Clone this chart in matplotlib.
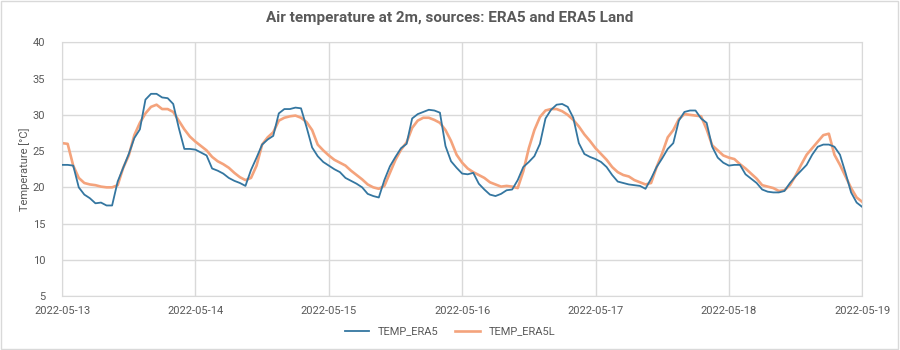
import numpy as np
import pandas as pd
import matplotlib
matplotlib.use("Agg")
from matplotlib import pyplot as plt
import matplotlib.dates as mdates

# hourly values, 2022-05-13 00:00 .. 2022-05-19 00:00
temp_era5 = [
    23.1, 23.1, 23.0, 20.0, 19.0, 18.5, 17.8, 17.9, 17.5, 17.5,
    20.8, 22.7, 24.6, 26.8, 28.0, 32.1, 32.9, 32.9, 32.4, 32.3,
    31.5, 28.2, 25.3, 25.3, 25.2, 24.8, 24.4, 22.6, 22.3, 21.9,
    21.3, 20.9, 20.6, 20.2, 22.4, 24.1, 25.9, 26.6, 27.1, 30.2,
    30.8, 30.8, 31.0, 30.9, 28.3, 25.5, 24.3, 23.5, 23.0, 22.5,
    22.1, 21.3, 20.9, 20.5, 20.0, 19.1, 18.8, 18.6, 21.0, 22.9,
    24.2, 25.4, 26.0, 29.5, 30.1, 30.4, 30.7, 30.6, 30.3, 25.7,
    23.6, 22.7, 21.9, 21.8, 22.0, 20.5, 19.7, 19.0, 18.8, 19.1,
    19.6, 19.7, 21.0, 22.8, 23.5, 24.3, 26.0, 29.5, 30.7, 31.4,
    31.5, 31.1, 29.6, 26.1, 24.6, 24.2, 23.9, 23.5, 22.8, 21.7,
    20.8, 20.6, 20.4, 20.3, 20.2, 19.8, 21.2, 22.8, 24.0, 25.3,
    26.1, 29.2, 30.4, 30.6, 30.6, 29.5, 28.9, 25.6, 24.1, 23.4,
    23.0, 23.1, 23.1, 21.8, 21.2, 20.6, 19.7, 19.4, 19.3, 19.3,
    19.5, 20.6, 21.5, 22.3, 23.1, 24.5, 25.6, 25.9, 25.9, 25.6,
    24.5, 22.0, 19.3, 17.9, 17.3,
]
temp_era5l = [
    26.1, 26.0, 23.0, 21.3, 20.6, 20.4, 20.3, 20.1, 20.0, 20.0,
    20.3, 22.7, 24.4, 27.2, 28.9, 30.2, 31.1, 31.4, 30.8, 30.8,
    30.4, 29.2, 28.0, 27.0, 26.3, 25.7, 25.1, 24.2, 23.6, 23.2,
    22.7, 22.0, 21.4, 21.0, 21.3, 23.0, 25.9, 26.9, 27.6, 29.2,
    29.6, 29.8, 29.9, 29.6, 29.0, 27.9, 25.9, 25.1, 24.4, 23.8,
    23.4, 23.0, 22.3, 21.7, 21.1, 20.4, 20.0, 19.8, 20.2, 22.0,
    23.8, 25.2, 26.2, 28.2, 29.2, 29.6, 29.6, 29.3, 28.9, 27.9,
    26.4, 24.5, 23.4, 22.6, 22.1, 21.7, 21.3, 20.7, 20.4, 20.1,
    20.2, 20.1, 19.9, 22.2, 25.4, 27.9, 29.7, 30.6, 30.8, 30.8,
    30.5, 30.0, 29.3, 28.4, 27.3, 26.4, 25.4, 24.6, 23.8, 22.8,
    22.1, 21.7, 21.5, 21.0, 20.7, 20.4, 20.6, 22.8, 24.7, 26.9,
    27.9, 29.4, 30.1, 30.0, 29.9, 29.8, 28.0, 25.8, 25.1, 24.4,
    24.1, 23.9, 23.2, 22.6, 21.9, 21.2, 20.3, 20.1, 19.9, 19.5,
    19.6, 20.3, 21.6, 23.1, 24.5, 25.4, 26.3, 27.2, 27.4, 24.5,
    23.1, 21.5, 19.9, 18.6, 18.0,
]
times = pd.date_range("2022-05-13 00:00", periods=len(temp_era5), freq="h")

plt.rcParams["font.family"] = ["Roboto", "DejaVu Sans"]

txt = "#595959"
grid = "#D9D9D9"

fig = plt.figure(figsize=(9, 3.5), dpi=100)
ax = fig.add_axes([0.069, 0.154, 0.889, 0.725])

ax.plot(times, temp_era5, color="#3476A0", lw=1.3, label="TEMP_ERA5",
        zorder=3, solid_joinstyle="round")
ax.plot(times, temp_era5l, color="#F4A37C", lw=1.9, label="TEMP_ERA5L",
        zorder=2, solid_joinstyle="round")

ax.set_ylim(5, 40)
ax.set_yticks(np.arange(5, 41, 5))
ax.set_xlim(pd.Timestamp("2022-05-13"), pd.Timestamp("2022-05-19"))
ax.xaxis.set_major_locator(mdates.DayLocator())
ax.xaxis.set_major_formatter(mdates.DateFormatter("%Y-%m-%d"))

ax.grid(True, color=grid, lw=1)
ax.set_axisbelow(True)
for s in ax.spines.values():
    s.set_color(grid)
ax.tick_params(length=0, labelsize=8, colors=txt, pad=7)
ax.tick_params(axis="y", pad=12)

ax.set_ylabel("Temperature [°C]", fontsize=8, color=txt, labelpad=2)
fig.suptitle("Air temperature at 2m, sources: ERA5 and ERA5 Land",
             fontsize=11, color=txt, fontweight="bold", y=0.968)

fig.legend(loc="lower center", ncol=2, frameon=False, fontsize=8,
           labelcolor=txt, bbox_to_anchor=(0.5, 0.01), handlelength=2.2,
           columnspacing=1.5)

fig.patches.append(plt.Rectangle((0.001, 0.002), 0.997, 0.995, transform=fig.transFigure,
                                 fill=False, edgecolor=grid, lw=1))

fig.savefig("out.png", dpi=100)
